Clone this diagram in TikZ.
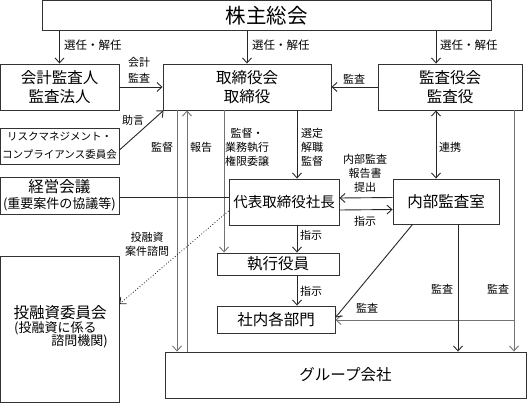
\documentclass[tikz,border=0pt]{standalone}
\usepackage{fontspec}
\setmainfont{Noto Sans CJK JP}
\usetikzlibrary{arrows.meta,calc}
\begin{document}
\begin{tikzpicture}[x=1pt,y=-1pt,
  box/.style={draw=black!80, line width=0.9pt, inner sep=0pt, align=center, font=\fontsize{15.5}{19}\selectfont},
  lbl/.style={inner sep=0pt, align=center, font=\fontsize{11}{14}\selectfont},
  arr/.style={draw=black!85, line width=0.9pt, -{Straight Barb[length=5pt,width=9pt]}},
  dblarr/.style={draw=black!85, line width=0.9pt, {Straight Barb[length=5pt,width=9pt]}-{Straight Barb[length=5pt,width=9pt]}},
  ln/.style={draw=black!85, line width=0.9pt},
  gr/.style={draw=black!55},
]
\useasboundingbox (0,0) rectangle (527,404);
% guide coordinates
\coordinate (x177) at (177,0);
\coordinate (x187) at (187,0);
\coordinate (x224) at (224,0);
\coordinate (x297) at (297,0);
\coordinate (x436) at (436,0);
\coordinate (x458) at (458,0);
\coordinate (x514) at (514,0);
\coordinate (y320) at (0,320);

% boxes
\node[box, minimum width=449pt, minimum height=30pt, font=\fontsize{20.5}{24}\selectfont] (kabu) at (266.5,15.5) {株主総会};
\node[box, minimum width=119pt, minimum height=46pt] (kaikei) at (59.5,87) {会計監査人\\監査法人};
\node[box, minimum width=168pt, minimum height=46pt] (tori) at (247,87) {取締役会\\取締役};
\node[box, minimum width=144pt, minimum height=46pt] (kansa) at (450,87) {監査役会\\監査役};
\node[box, minimum width=119pt, minimum height=36pt, font=\fontsize{10.5}{18}\selectfont] (risk) at (59.5,146) {リスクマネジメント・\\コンプライアンス委員会};
\node[box, minimum width=119pt, minimum height=37pt, font=\fontsize{15.5}{16}\selectfont] (keiei) at (59.5,195.5) {経営会議\\{\fontsize{13}{16}\selectfont (重要案件の協議等)}};
\node[box, minimum width=110pt, minimum height=46pt, font=\fontsize{14.5}{18}\selectfont] (daihyo) at (284,202) {代表取締役社長};
\node[box, minimum width=106pt, minimum height=45pt] (naibu) at (446,201.5) {内部監査室};
\node[box, minimum width=122pt, minimum height=22pt] (shikko) at (278,264) {執行役員};
\node[box, minimum width=118pt, minimum height=27pt] (shanai) at (276,319.5) {社内各部門};
\node[box, minimum width=361pt, minimum height=46pt] (group) at (345.5,375) {グループ会社};
\node[box, minimum width=119pt, minimum height=146pt] (toyu) at (59.5,329) {};
\node[lbl, font=\fontsize{15.5}{18}\selectfont] (toyut) at (60,313) {投融資委員会};
\node[lbl, font=\fontsize{13}{16}\selectfont, anchor=west] (toyus1) at (14,328) {(投融資に係る};
\node[lbl, font=\fontsize{13}{16}\selectfont, anchor=east] (toyus2) at (108,341) {諮問機関)};

% connectors from shareholders
\draw[arr] (kaikei.north |- kabu.south) -- (kaikei.north);
\draw[arr] (tori.north |- kabu.south) -- (tori.north);
\draw[arr] (x436 |- kabu.south) -- (x436 |- kansa.north);
% to board
\draw[arr] (kaikei.east) -- (kaikei.east -| tori.west);
\draw[arr] (kansa.west) -- (kansa.west -| tori.east);
\draw[arr] ([yshift=-4pt]risk.east) -- ([xshift=1pt]tori.south west);
% verticals from board
\draw[arr, gr] (x177 |- tori.south) -- (x177 |- group.north);
\draw[arr, gr] (x187 |- group.north) -- (x187 |- tori.south);
\draw[arr, gr] (x224 |- tori.south) -- (x224 |- shikko.north);
\draw[arr] (x297 |- tori.south) -- (x297 |- daihyo.north);
% auditors
\draw[dblarr] (x436 |- kansa.south) -- (x436 |- naibu.north);
\draw[arr, gr] (x514 |- kansa.south) -- (x514 |- group.north);
\draw[arr, gr] (x514 |- y320) -- (y320 -| shanai.east);
% internal audit
\draw[arr] ([xshift=20pt]naibu.south west) -- ([yshift=2pt]shanai.east);
\draw[arr] (x458 |- naibu.south) -- (x458 |- group.north);
\draw[arr] ([yshift=4pt]naibu.west) -- ([yshift=4pt]daihyo.east);
\draw[arr] ([yshift=-8pt]daihyo.east) -- ([yshift=-8pt]naibu.west);
% management
\draw[ln] (keiei.east |- 0,197) -- (daihyo.west |- 0,197);
\draw[arr] (x297 |- daihyo.south) -- (x297 |- shikko.north);
\draw[arr] (x297 |- shikko.south) -- (x297 |- shanai.north);
\draw[arr, dotted, line width=0.8pt] ([yshift=-9pt]daihyo.west) -- ([yshift=25pt]toyu.east);

% labels
\node[lbl, font=\fontsize{11.5}{14}\selectfont, anchor=west] (lb1) at (64,45) {選任・解任};
\node[lbl, font=\fontsize{11.5}{14}\selectfont, anchor=west] (lb2) at (252,45) {選任・解任};
\node[lbl, font=\fontsize{11.5}{14}\selectfont, anchor=west] (lb3) at (440,45) {選任・解任};
\node[lbl, font=\fontsize{11}{16}\selectfont] (lb4) at (139,70.5) {会計\\監査};
\node[lbl] (lb5) at (354,79) {監査};
\node[lbl] (lb6) at (133,120) {助言};
\node[lbl] (lb7) at (162,147) {監督};
\node[lbl] (lb8) at (201,147) {報告};
\node[lbl] (lb9) at (247,147) {監督・\\業務執行\\権限委譲};
\node[lbl] (lb10) at (312,147) {選定\\解職\\監督};
\node[lbl] (lb11) at (450,147) {連携};
\node[lbl] (lb12) at (365,173) {内部監査\\報告書\\提出};
\node[lbl] (lb13) at (365,221) {指示};
\node[lbl] (lb14) at (147,244) {投融資\\案件諮問};
\node[lbl] (lb15) at (311,235) {指示};
\node[lbl] (lb16) at (311,291) {指示};
\node[lbl] (lb17) at (367,308) {監査};
\node[lbl] (lb18) at (442,289) {監査};
\node[lbl] (lb19) at (498,289) {監査};
\end{tikzpicture}
\end{document}
